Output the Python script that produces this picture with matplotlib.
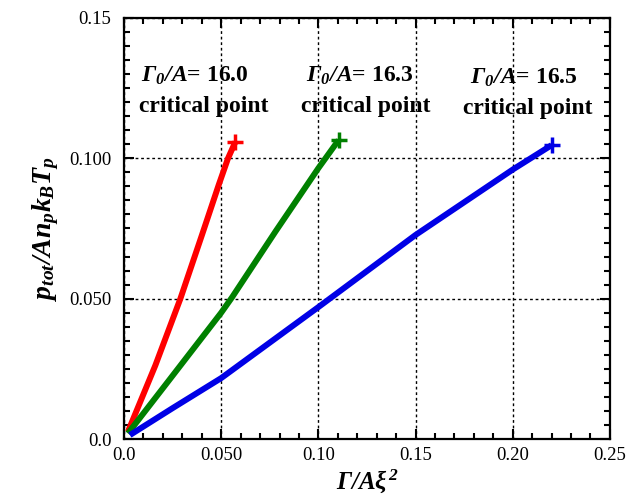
import matplotlib
matplotlib.use("Agg")
import matplotlib.pyplot as plt
from matplotlib.ticker import MultipleLocator, FixedFormatter, FixedLocator

plt.rcParams['font.family'] = ['Liberation Serif', 'DejaVu Serif']
plt.rcParams['mathtext.fontset'] = 'custom'
plt.rcParams['mathtext.rm'] = 'Liberation Serif:italic:bold'
plt.rcParams['mathtext.it'] = 'Liberation Serif:italic:bold'
plt.rcParams['mathtext.bf'] = 'Liberation Serif:bold'

# Data
red_x = [0.002, 0.0161, 0.029, 0.0401, 0.0487, 0.0535, 0.0573]
red_y = [0.0026, 0.0262, 0.050, 0.0727, 0.0905, 0.100, 0.1059]
green_x = [0.002, 0.0238, 0.050, 0.0556, 0.078, 0.100, 0.1104]
green_y = [0.002, 0.0215, 0.0450, 0.0505, 0.074, 0.0965, 0.1065]
blue_x = [0.003, 0.025, 0.050, 0.100, 0.150, 0.200, 0.220]
blue_y = [0.0014, 0.011, 0.0217, 0.047, 0.0727, 0.0960, 0.1047]

labels = [r'$\Gamma_0/A$= 16.0', r'$\Gamma_0/A$= 16.3', r'$\Gamma_0/A$= 16.5']
label_x = [0.0365, 0.1215, 0.2055]
label_y = [0.1295, 0.1295, 0.1288]
sub_x = [0.0410, 0.1245, 0.2075]
sub_y = [0.1185, 0.1185, 0.1178]

xticks = [0.0, 0.05, 0.10, 0.15, 0.20, 0.25]
xticklabels = ['0.0', '0.050', '0.10', '0.15', '0.20', '0.25']
yticks = [0.0, 0.05, 0.10, 0.15]
yticklabels = ['0.0', '0.050', '0.100', '0.15']

fig = plt.figure(figsize=(6.38, 5.0), dpi=100)
ax = fig.add_axes([0.1944, 0.122, 0.7616, 0.842])

lw = 4.3
for xs, ys, c in [(red_x, red_y, '#ff0000'), (green_x, green_y, '#008000'), (blue_x, blue_y, '#0000e6')]:
    ax.plot(xs, ys, color=c, lw=lw, solid_capstyle='butt', solid_joinstyle='round', zorder=3)
    ax.plot([xs[-1]], [ys[-1]], marker='+', color=c, ms=12, mew=2.5, zorder=4)

for t, x, y in zip(labels, label_x, label_y):
    ax.text(x, y, t, ha='center', va='center', fontsize=17, fontweight='bold')
for x, y in zip(sub_x, sub_y):
    ax.text(x, y, 'critical point', ha='center', va='center', fontsize=17, fontweight='bold')

ax.set_xlim(0, 0.25)
ax.set_ylim(0, 0.15)
ax.xaxis.set_major_locator(FixedLocator(xticks))
ax.xaxis.set_major_formatter(FixedFormatter(xticklabels))
ax.yaxis.set_major_locator(FixedLocator(yticks))
ax.yaxis.set_major_formatter(FixedFormatter(yticklabels))
ax.xaxis.set_minor_locator(MultipleLocator(0.01))
ax.yaxis.set_minor_locator(MultipleLocator(0.005))

ax.tick_params(which='both', direction='in', top=True, right=True, width=1.5)
ax.tick_params(which='major', length=7)
ax.tick_params(which='minor', length=4.5)
ax.tick_params(axis='x', which='major', pad=6, labelsize=13.5)
ax.tick_params(axis='y', which='major', pad=9, labelsize=13.5)
for s in ax.spines.values():
    s.set_linewidth(1.6)

ax.grid(True, which='major', color='black', linestyle=(0, (2, 2)), linewidth=1.0, zorder=1)

ax.set_xlabel(r'$\Gamma/A\xi^2$', fontsize=18, labelpad=2)
ax.set_ylabel(r'$p_{tot}/An_pk_BT_p$', fontsize=20, labelpad=6)

fig.savefig('out.png', dpi=100)
